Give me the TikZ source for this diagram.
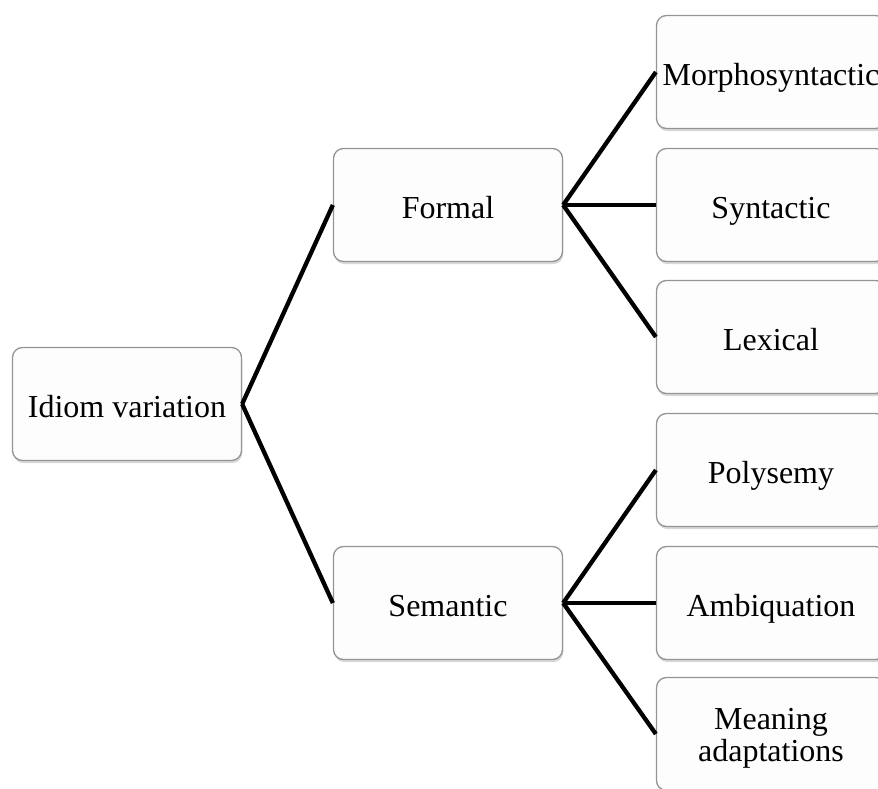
\documentclass[tikz,border=0pt]{standalone}
\usepackage{fontspec}
\setmainfont{Liberation Serif}
\usetikzlibrary{shadows}

\newlength{\du}
\setlength{\du}{1pt}

\definecolor{boxline}{rgb}{0.580000, 0.580000, 0.580000}
\definecolor{boxfill}{rgb}{0.992000, 0.992000, 0.992000}

\tikzset{
  idbox/.style={draw=boxline, line width=1.3\du, fill=boxfill,
    rounded corners=10\du, inner sep=0pt,
    minimum width=229\du, minimum height=113\du, align=center,
    text height=27\du, text depth=0\du,
    font=\fontsize{32}{32}\selectfont,
    drop shadow={shadow xshift=0.8\du, shadow yshift=-2.6\du, fill=black!30}},
  idlink/.style={line width=4.3\du, black},
}

\begin{document}
\begin{tikzpicture}[x=1\du, y=-1\du]
\path[use as bounding box, clip] (0,0) rectangle (878,789);
% root
\node[idbox] (idiom) at (127.000000,404.000000){Idiom variation};
% second level
\node[idbox] (formal) at (448.000000,205.000000){Formal};
\node[idbox] (semantic) at (448.000000,603.000000){Semantic};
% leaves
\node[idbox] (morpho) at (771.000000,72.000000){Morphosyntactic};
\node[idbox] (syntactic) at (771.000000,205.000000){Syntactic};
\node[idbox] (lexical) at (771.000000,337.000000){Lexical};
\node[idbox] (polysemy) at (771.000000,470.000000){Polysemy};
\node[idbox] (ambiq) at (771.000000,603.000000){Ambiquation};
\node[idbox, text height=60\du, text depth=6\du] (meaning) at (771.000000,734.000000){Meaning\\adaptations};
\draw[idlink] (idiom.east) -- (formal.west);
\draw[idlink] (idiom.east) -- (semantic.west);
\draw[idlink] (formal.east) -- (morpho.west);
\draw[idlink] (formal.east) -- (syntactic.west);
\draw[idlink] (formal.east) -- (lexical.west);
\draw[idlink] (semantic.east) -- (polysemy.west);
\draw[idlink] (semantic.east) -- (ambiq.west);
\draw[idlink] (semantic.east) -- (meaning.west);
\end{tikzpicture}
\end{document}
